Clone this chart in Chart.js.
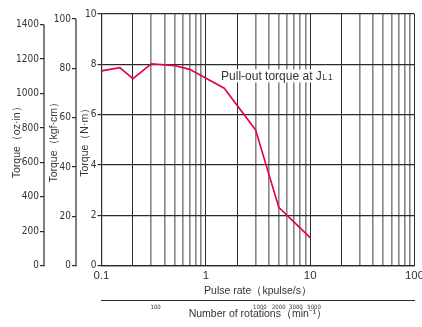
<!DOCTYPE html>
<html>
<head>
<meta charset="utf-8">
<title>Pull-out torque</title>
<script src="https://cdn.jsdelivr.net/npm/chart.js@4.4.0/dist/chart.umd.min.js"></script>
<style>
  html, body { margin: 0; padding: 0; background: #fff; }
</style>
</head>
<body>
<canvas id="torque" width="422" height="327"></canvas>

<script>
// curve: pulse rate (kpulse/s) -> torque (N·m)
var pulseRate = [0.1, 0.15, 0.2, 0.3, 0.5, 0.7, 1.5, 3, 5, 10]
var torqueNm = [7.74, 7.87, 7.43, 8.02, 7.95, 7.8, 7.05, 5.39, 2.32, 1.11]

var xLabels = [0.1, 1, 10, 100]
var nmTicks = [0, 2, 4, 6, 8, 10]
var kgfTicks = [0, 20, 40, 60, 80, 100]
var ozTicks = [0, 200, 400, 600, 800, 1000, 1200, 1400]
// rotation labels and where they sit on the pulse-rate axis
var rotLabels = ['100', '1000', '2000', '3000', '5000']
var rotAt = [0.33, 3.3, 5.0, 7.3, 10.9]

var sans = "'Liberation Sans', Arial, sans-serif"
var narrow = "'Liberation Sans Narrow', 'Arial Narrow', 'DejaVu Sans Condensed', sans-serif"
var ink = '#333'
var dark = '#2b2b2b'
var gray = '#858585'

// every gridline of the log axis: 1..9 per decade
var gridVals = []
for (var e = -1; e < 2; e++) {
  for (var m = 1; m < 10; m++) gridVals.push(+(m * Math.pow(10, e)).toFixed(3))
}
gridVals.push(100)

function setTicks(vals) {
  return function (s) { s.ticks = vals.map(function (v) { return { value: v } }) }
}
function fixWidth(w) {
  return function (s) { s.width = w; s.paddingTop = 0; s.paddingBottom = 0 }
}
function fixHeight(h) {
  return function (s) { s.height = h; s.paddingLeft = 0; s.paddingRight = 0 }
}
function plain(v) { return String(v) }
function isDark(v) {
  var mant = Math.round(v / Math.pow(10, Math.floor(Math.log10(v) + 1e-9)))
  return mant === 1 || mant === 2
}

// axis lines of the extra torque scales only run up to their last tick
var axisLines = {
  id: 'axisLines',
  afterDraw: function (chart) {
    var ctx = chart.ctx
    ctx.save()
    ctx.strokeStyle = dark
    ctx.lineWidth = 1.2
    ;['kgf', 'oz'].forEach(function (id) {
      var s = chart.scales[id]
      var last = s.ticks[s.ticks.length - 1].value
      ctx.beginPath()
      ctx.moveTo(s.right, s.getPixelForValue(0) + 0.6)
      ctx.lineTo(s.right, s.getPixelForValue(last))
      ctx.stroke()
    })
    ctx.restore()
  }
}

var note = {
  id: 'note',
  afterDatasetsDraw: function (chart) {
    var ctx = chart.ctx
    var x = chart.scales.x.getPixelForValue(1.4)
    var y = chart.scales.y.getPixelForValue(7.54)
    ctx.save()
    ctx.font = '12px ' + sans
    var main = 'Pull-out torque at J'
    var w1 = ctx.measureText(main).width
    ctx.font = '8.5px ' + sans
    var w2 = ctx.measureText('L1').width + 1
    ctx.fillStyle = '#fff'
    ctx.fillRect(x - 2, y - 6.5, w1 + w2 + 4, 13)
    ctx.fillStyle = ink
    ctx.textBaseline = 'alphabetic'
    ctx.font = '12px ' + sans
    ctx.fillText(main, x, y + 4.3)
    ctx.font = '8.5px ' + sans
    ctx.fillText('L', x + w1 + 0.5, y + 4.3)
    ctx.fillText('1', x + w1 + 0.5 + ctx.measureText('L').width + 1, y + 4.3)
    ctx.restore()
  }
}

var chart = new Chart(document.getElementById('torque'), {
  type: 'line',
  data: {
    datasets: [{
      data: pulseRate.map(function (p, i) { return { x: p, y: torqueNm[i] } }),
      borderColor: '#e4004f',
      borderWidth: 1.6,
      pointRadius: 0,
      tension: 0,
      xAxisID: 'x',
      yAxisID: 'y'
    }]
  },
  options: {
    responsive: false,
    animation: false,
    layout: { padding: { top: 14, right: 7.5, bottom: 4.4, left: 0 } },
    plugins: { legend: { display: false }, tooltip: { enabled: false } },
    scales: {
      x: {
        type: 'logarithmic', position: 'bottom', weight: 0, min: 0.1, max: 100,
        afterBuildTicks: setTicks(gridVals),
        afterFit: fixHeight(35),
        grid: {
          drawTicks: false,
          color: function (c) { return c.tick && isDark(c.tick.value) ? dark : gray },
          lineWidth: function (c) { return c.tick && isDark(c.tick.value) ? 1 : 1.6 }
        },
        border: { color: dark, width: 1.2 },
        ticks: {
          autoSkip: false, maxRotation: 0, padding: 3, color: ink,
          font: { family: sans, size: 11.5 },
          callback: function (v) { return xLabels.indexOf(v) >= 0 ? String(v) : '' }
        },
        title: {
          display: true, text: 'Pulse rate（kpulse/s）', color: ink,
          font: { family: sans, size: 10.5 }, padding: { top: 0, bottom: 3.4 }
        }
      },
      x2: {
        type: 'logarithmic', position: 'bottom', weight: 1, min: 0.1, max: 100,
        afterBuildTicks: setTicks(rotAt),
        afterFit: fixHeight(22),
        grid: { display: false, drawTicks: false },
        border: { display: true, color: dark, width: 1 },
        ticks: {
          autoSkip: false, maxRotation: 0, padding: 3.5, color: ink,
          font: { family: narrow, size: 6 },
          callback: function (v, i) { return rotLabels[i] }
        },
        title: {
          display: true, text: 'Number of rotations（min⁻¹）', color: ink,
          font: { family: sans, size: 10.5 }, padding: { top: 0, bottom: 1.7 }
        }
      },
      y: {
        type: 'linear', position: 'left', weight: 0, min: 0, max: 10,
        afterBuildTicks: setTicks(nmTicks),
        afterFit: fixWidth(25.5),
        grid: { color: dark, lineWidth: 1.2, tickLength: 4 },
        border: { color: dark, width: 1.2 },
        ticks: { padding: 1, color: ink, font: { family: narrow, size: 10 }, callback: plain },
        title: {
          display: true, text: 'Torque（N·m）', color: ink,
          font: { family: sans, size: 10.5 }, padding: { top: 3.2, bottom: 0 }
        }
      },
      kgf: {
        type: 'linear', position: 'left', weight: 1, min: 0, max: 102,
        afterBuildTicks: setTicks(kgfTicks),
        afterFit: fixWidth(32),
        grid: { drawOnChartArea: false, color: dark, lineWidth: 1.2, tickLength: 4 },
        border: { display: false },
        ticks: { padding: 1, color: ink, font: { family: narrow, size: 10 }, callback: plain },
        title: {
          display: true, text: 'Torque（kgf·cm）', color: ink,
          font: { family: sans, size: 10.5 }, padding: { top: 3.7, bottom: 0 }
        }
      },
      oz: {
        type: 'linear', position: 'left', weight: 2, min: 0, max: 1462,
        afterBuildTicks: setTicks(ozTicks),
        afterFit: fixWidth(44),
        grid: { drawOnChartArea: false, color: dark, lineWidth: 1.2, tickLength: 4 },
        border: { display: false },
        ticks: { padding: 1, color: ink, font: { family: narrow, size: 10 }, callback: plain },
        title: {
          display: true, text: 'Torque（oz·in）', color: ink,
          font: { family: sans, size: 10.5 }, padding: { top: 10.7, bottom: 0 }
        }
      }
    }
  },
  plugins: [axisLines, note]
})
</script>
</body>
</html>
